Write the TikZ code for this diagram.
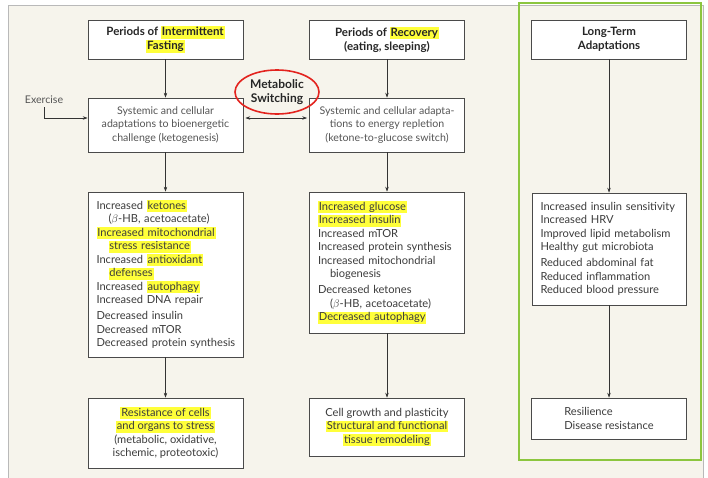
\documentclass[tikz,border=0pt]{standalone}
\usepackage{fontspec}
\setmainfont{Lato}
\usetikzlibrary{arrows.meta,shapes.geometric}
\definecolor{bg}{HTML}{F6F4EC}
\definecolor{hly}{HTML}{FFFF3A}
\definecolor{txt}{HTML}{3C3C3C}
\definecolor{txtl}{HTML}{555555}
\definecolor{ttlc}{HTML}{262626}
\definecolor{bord}{HTML}{4A4A4A}
\definecolor{arrc}{HTML}{333333}
\definecolor{lgreen}{HTML}{8CC63F}
\definecolor{redc}{HTML}{E3231E}
\newcommand\hl[1]{{\setlength{\fboxsep}{0.9pt}\colorbox{hly}{\vphantom{Ay}#1}}}
\newcommand\bdy{\fontsize{10.6}{13.5}\selectfont}
\newcommand\lst{\fontsize{11.1}{13.5}\selectfont}
\newcommand\ttl{\fontsize{11.5}{14}\selectfont\bfseries}
\newcommand\mst{\fontsize{12}{14}\selectfont\bfseries}
\newcommand\ind{\hspace*{12pt}}
\begin{document}
\begin{tikzpicture}[x=1pt,y=-1pt,
  box/.style={draw=bord,fill=white,line width=0.6pt,inner sep=0pt,align=center,text=txt,minimum width=155pt,font=\lst},
  ttlbox/.style={box,minimum height=39pt,font=\ttl,text=ttlc},
  listbox/.style={draw=bord,fill=white,line width=0.6pt,inner xsep=8.5pt,inner ysep=0pt,text width=138pt,align=left,text=txt,font=\lst},
  arr/.style={-{Stealth[length=5pt,width=3.4pt]},line width=0.6pt,draw=arrc},
  arrd/.style={{Stealth[length=5pt,width=3.4pt]}-{Stealth[length=5pt,width=3.4pt]},line width=0.6pt,draw=arrc},
]
\useasboundingbox (0,0) rectangle (708,477);
\fill[white] (0,0) rectangle (708,477);
\draw[fill=bg,draw=gray!55,line width=0.8pt] (8,5) rectangle (703,490);
\draw[lgreen,line width=2.4pt] (519,3) rectangle (701,460);

\node[ttlbox] (f) at (165.5,39.5) {Periods of \hl{Intermittent}\\\hl{Fasting}};
\node[ttlbox] (r) at (387,39.5) {Periods of \hl{Recovery}\\(eating, sleeping)};
\node[ttlbox] (lt) at (609,39.5) {Long-Term\\Adaptations};

\node[box,minimum height=54pt,text=txtl,font=\bdy] (s1) at (165.5,125) {Systemic and cellular\\adaptations to bioenergetic\\challenge (ketogenesis)};
\node[box,minimum height=54pt,text=txtl,font=\bdy] (s2) at (387,125) {Systemic and cellular adapta-\\tions to energy repletion\\(ketone-to-glucose switch)};

\node[ellipse,draw=redc,line width=1.6pt,minimum width=84pt,minimum height=44pt,inner sep=0pt,align=center,font=\mst,text=ttlc] (ms) at (277,92) {Metabolic\\Switching};

\node[font=\bdy,text=txtl] (ex) at (44,100) {Exercise};

\node[listbox,minimum height=165pt] (l1) at (165.5,274.5) {Increased \hl{ketones}\\
\ind($\beta$-HB, acetoacetate)\\
\hl{Increased mitochondrial}\\
\ind\hl{stress resistance}\\
Increased \hl{antioxidant}\\
\ind\hl{defenses}\\
Increased \hl{autophagy}\\
Increased DNA repair\\[2.5pt]
Decreased insulin\\
Decreased mTOR\\
\mbox{Decreased protein synthesis}};

\node[listbox,minimum height=141pt] (l2) at (387,262.5) {\hl{Increased glucose}\\
\hl{Increased insulin}\\
Increased mTOR\\
Increased protein synthesis\\
Increased mitochondrial\\
\ind biogenesis\\[2.5pt]
Decreased ketones\\
\ind($\beta$-HB, acetoacetate)\\
\hl{Decreased autophagy}};

\node[listbox,minimum height=112pt,text width=137pt] (l3) at (609,249) {\mbox{Increased insulin sensitivity}\\
Increased HRV\\
Improved lipid metabolism\\
Healthy gut microbiota\\[2.5pt]
Reduced abdominal fat\\
Reduced inflammation\\
Reduced blood pressure};

\node[box,minimum height=70pt] (b1) at (165.5,433) {\hl{Resistance of cells}\\\hl{and organs to stress}\\(metabolic, oxidative,\\ischemic, proteotoxic)};
\node[box,minimum height=58pt] (b2) at (387,427) {Cell growth and plasticity\\\hl{Structural and functional}\\\hl{tissue remodeling}};
\node[box,minimum height=41pt,align=left] (b3) at (609,418.5) {Resilience\\Disease resistance};

\draw[arr] (f) -- (s1);
\draw[arr] (r) -- (s2);
\draw[arr] (lt) -- (l3);
\draw[arr] (s1) -- (l1);
\draw[arr] (s2) -- (l2);
\draw[arr] (l1) -- (b1);
\draw[arr] (l2) -- (b2);
\draw[arr] (l3) -- (b3);
\draw[arr] (ex.south) |- ([yshift=7pt]s1.west);
\draw[arrd] ([yshift=7pt,xshift=2pt]s1.east) -- ([yshift=7pt,xshift=-2pt]s2.west);
\end{tikzpicture}
\end{document}
